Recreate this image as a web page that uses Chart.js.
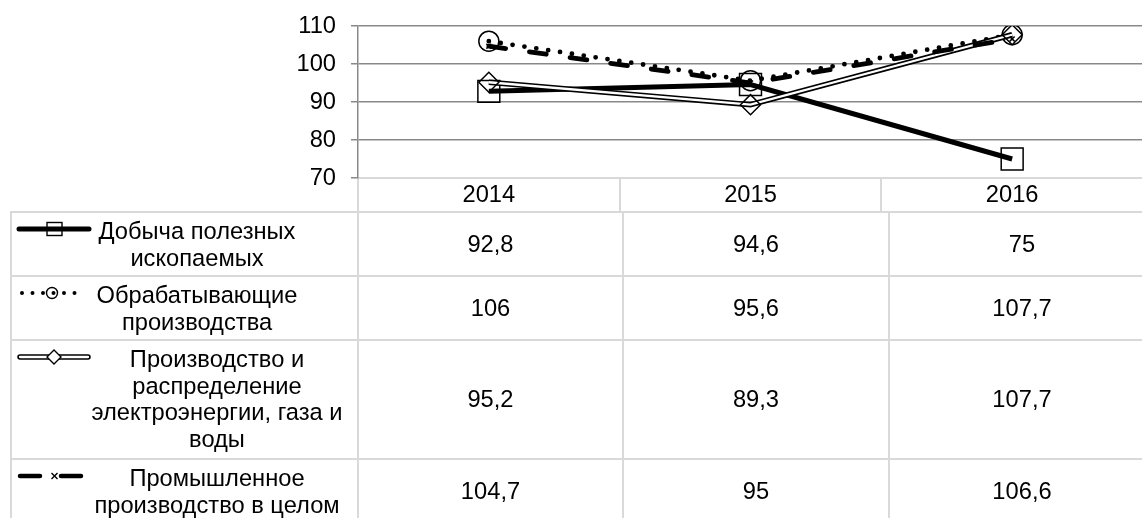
<!DOCTYPE html>
<html>
<head>
<meta charset="utf-8">
<script src="https://cdn.jsdelivr.net/npm/chart.js@4.4.1/dist/chart.umd.min.js"></script>
<style>
html, body { margin:0; padding:0; background:#fff; overflow:hidden; width:1142px; height:518px; }
#wrap { position:relative; width:1160px; height:518px; font-family:"Liberation Sans", Arial, sans-serif; color:#000; }
#box { position:absolute; left:0; top:0; width:1160px; height:212px; }
#tbl { position:absolute; left:10px; top:211px; border-collapse:collapse; table-layout:fixed; font-size:23.7px; }
#tbl td { border:2px solid #d9d9d9; padding:0; text-align:center; vertical-align:middle; }
.lab { position:relative; width:100%; }
.lab svg { position:absolute; left:0; top:0; }
.lab .txt { position:absolute; width:320px; text-align:center; white-space:nowrap; line-height:26.5px; }
</style>
</head>
<body>
<div id="wrap">
  <div id="box"><canvas id="chart"></canvas></div>
  <table id="tbl">
    <colgroup><col style="width:347px"><col style="width:265px"><col style="width:266px"><col style="width:266px"></colgroup>
    <tbody id="tb"></tbody>
  </table>
</div>
<script>
// ---- data ----
const years = ['2014', '2015', '2016'];
const mining = [92.8, 94.6, 75];
const manufacturing = [106, 95.6, 107.7];
const utilities = [95.2, 89.3, 107.7];
const industryTotal = [104.7, 95, 106.6];
const yTicks = [70, 80, 90, 100, 110];
const seriesNames = [
  ['Добыча полезных', 'ископаемых'],
  ['Обрабатывающие', 'производства'],
  ['Производство и', 'распределение', 'электроэнергии, газа и', 'воды'],
  ['Промышленное', 'производство в целом']
];
const valueLabels = [
  ['92,8', '94,6', '75'],
  ['106', '95,6', '107,7'],
  ['95,2', '89,3', '107,7'],
  ['104,7', '95', '106,6']
];

// ---- chart ----
const FS = 23.7;
Chart.defaults.font.family = 'Liberation Sans';
Chart.defaults.font.size = FS;
Chart.defaults.color = '#000';

new Chart(document.getElementById('chart'), {
  type: 'line',
  data: {
    labels: years,
    datasets: [
      { label: seriesNames[0].join(' '), data: mining, order: 6,
        borderColor: '#000', borderWidth: 5, tension: 0,
        pointStyle: 'rect', pointRadius: 15.5, pointBorderWidth: 1.5,
        pointBorderColor: '#000', pointBackgroundColor: 'rgba(0,0,0,0)' },
      { label: seriesNames[1].join(' '), data: manufacturing, order: 5,
        borderColor: '#000', borderWidth: 4.8, borderDash: [0, 12], borderCapStyle: 'round', tension: 0,
        pointStyle: 'circle', pointRadius: 10, pointBorderWidth: 1.5,
        pointBorderColor: '#000', pointBackgroundColor: 'rgba(0,0,0,0)' },
      { label: seriesNames[2].join(' '), data: utilities, order: 4,
        borderColor: '#000', borderWidth: 5.5, tension: 0, pointRadius: 0 },
      { label: seriesNames[2].join(' ') + ' (inner)', data: utilities, order: 3,
        borderColor: '#fff', borderWidth: 2.3, tension: 0, pointRadius: 0 },
      { label: seriesNames[2].join(' ') + ' (markers)', data: utilities, order: 2, showLine: false,
        pointStyle: 'rectRot', pointRadius: 10, pointBorderWidth: 1.5,
        pointBorderColor: '#000', pointBackgroundColor: 'rgba(0,0,0,0)' },
      { label: seriesNames[3].join(' '), data: industryTotal, order: 1,
        borderColor: '#000', borderWidth: 4.8, borderDash: [17, 24], borderCapStyle: 'round', tension: 0,
        pointStyle: 'crossRot', pointRadius: 3.5, pointBorderWidth: 1.5, pointBorderColor: '#000' }
    ]
  },
  options: {
    responsive: true,
    maintainAspectRatio: false,
    animation: false,
    events: [],
    layout: { padding: { top: 26, right: 5, left: 0, bottom: 0 } },
    plugins: { legend: { display: false }, tooltip: { enabled: false } },
    scales: {
      x: {
        offset: true,
        grid: { offset: true, drawOnChartArea: false, drawTicks: true, tickLength: 34, color: '#d9d9d9', lineWidth: 2 },
        border: { display: true, color: '#d9d9d9', width: 2 },
        ticks: { color: '#000', font: { size: FS }, padding: -31, maxRotation: 0 },
        afterFit(s) { s.height = 34; s.paddingLeft = 0; s.paddingRight = 0; }
      },
      y: {
        min: yTicks[0], max: yTicks[yTicks.length - 1],
        afterBuildTicks(s) { s.ticks = yTicks.map(v => ({ value: v })); },
        ticks: { color: '#000', font: { size: FS }, padding: 15 },
        grid: { color: c => (c.tick && c.tick.value === yTicks[0]) ? '#d9d9d9' : '#898989',
                lineWidth: 1.5, tickLength: 7, tickColor: '#898989', tickWidth: 1.5 },
        border: { display: true, color: '#898989', width: 1.5 },
        afterFit(s) { s.width = 358; s.paddingTop = 0; s.paddingBottom = 0; }
      }
    }
  }
});

// ---- data table ----
const rowHeights = [64, 64, 119, 64];
const textCenters = [185, 185, 205, 205];
function keySvg(i) {
  const y = 16;
  let s = '<svg width="100" height="36" xmlns="http://www.w3.org/2000/svg">';
  if (i === 0) {
    s += `<line x1="7" y1="${y}" x2="77" y2="${y}" stroke="#000" stroke-width="5" stroke-linecap="round"/>`;
    s += `<rect x="35" y="${y-6.5}" width="15" height="13" fill="none" stroke="#000" stroke-width="1.4"/>`;
  } else if (i === 1) {
    s += `<line x1="10" y1="${y}" x2="69" y2="${y}" stroke="#000" stroke-width="4" stroke-linecap="round" stroke-dasharray="0 10.5"/>`;
    s += `<circle cx="40" cy="${y}" r="5.5" fill="none" stroke="#000" stroke-width="1.4"/>`;
  } else if (i === 2) {
    s += `<line x1="8" y1="${y}" x2="76" y2="${y}" stroke="#000" stroke-width="5.5" stroke-linecap="round"/>`;
    s += `<line x1="8" y1="${y}" x2="76" y2="${y}" stroke="#fff" stroke-width="2.3" stroke-linecap="round"/>`;
    s += `<path d="M35 ${y} L42 ${y-7} L49 ${y} L42 ${y+7} Z" fill="#fff" stroke="#000" stroke-width="1.4"/>`;
  } else {
    s += `<line x1="8" y1="${y}" x2="71" y2="${y}" stroke="#000" stroke-width="4.5" stroke-linecap="round" stroke-dasharray="20 21"/>`;
    s += `<path d="M39.5 ${y-3} L45.5 ${y+3} M45.5 ${y-3} L39.5 ${y+3}" stroke="#000" stroke-width="1.4"/>`;
  }
  return s + '</svg>';
}
const tb = document.getElementById('tb');
seriesNames.forEach((name, i) => {
  const tr = document.createElement('tr');
  tr.style.height = rowHeights[i] + 'px';
  const td0 = document.createElement('td');
  td0.style.verticalAlign = 'top';
  td0.innerHTML = `<div class="lab" style="height:${rowHeights[i]-2}px">${keySvg(i)}` +
    `<div class="txt" style="left:${textCenters[i]-160}px;top:5px">${name.join('<br>')}</div></div>`;
  tr.appendChild(td0);
  valueLabels[i].forEach(v => {
    const td = document.createElement('td');
    td.textContent = v;
    tr.appendChild(td);
  });
  tb.appendChild(tr);
});
</script>
</body>
</html>
